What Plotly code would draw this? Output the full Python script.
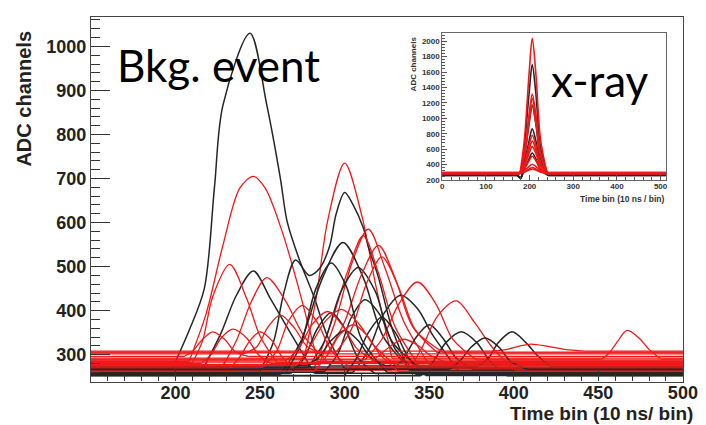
import plotly.graph_objects as go

# ---------------- main panel: background event pulses ----------------
black_t = [
    [198, 208, 217, 223, 228, 244, 254, 262, 266, 273, 282, 290, 300],
    [215, 227, 236, 246, 256, 266, 282],
    [250, 258, 264, 271, 279, 285, 291, 295, 300, 305, 311, 314, 320, 328, 338],
    [262, 274, 287, 299, 311, 323, 342],
    [278, 288, 298, 308, 318, 328, 345],
    [305, 314, 323, 333, 343, 352, 368],
    [328, 335, 342, 350, 358, 366, 376],
    [345, 352, 360, 369, 378, 386, 396],
    [378, 385, 391, 399, 407, 414, 422],
    [268, 276, 284, 292, 300, 308, 318],
    [288, 296, 304, 312, 321, 330, 342],
    [278, 285, 292, 300, 308, 315, 324],
    [300, 307, 314, 322, 330, 338, 348],
    [362, 368, 375, 383, 391, 398, 408],
    [265, 274, 283, 292, 301, 310, 325],
]
black_adc = [
    [268, 355, 450, 680, 866, 1030, 866, 700, 602, 518, 430, 340, 268],
    [258, 350, 435, 490, 428, 362, 258],
    [264, 330, 440, 515, 480, 495, 545, 620, 668, 640, 588, 545, 475, 360, 264],
    [255, 330, 475, 555, 475, 340, 255],
    [270, 330, 445, 498, 445, 330, 270],
    [260, 310, 392, 435, 405, 345, 260],
    [266, 292, 338, 368, 338, 292, 266],
    [252, 282, 328, 352, 328, 285, 252],
    [272, 292, 328, 352, 328, 298, 272],
    [257, 292, 360, 395, 360, 292, 257],
    [262, 302, 385, 425, 390, 312, 262],
    [275, 295, 332, 355, 332, 295, 275],
    [253, 292, 350, 385, 350, 292, 253],
    [267, 285, 318, 338, 318, 285, 267],
    [260, 322, 450, 508, 455, 335, 260],
]
red_t = [
    [208, 218, 228, 238, 246, 253, 263, 272, 284],
    [276, 283, 290, 300, 310, 318, 328],
    [285, 295, 304, 314, 324, 335, 350],
    [282, 292, 302, 311, 320, 330, 345],
    [290, 300, 310, 320, 330, 340, 355],
    [210, 216, 222, 232, 242, 250, 260],
    [228, 236, 245, 254, 265, 276, 292],
    [312, 322, 332, 343, 354, 364, 378],
    [338, 346, 355, 366, 377, 387, 400],
    [388, 396, 403, 410, 420, 430, 442],
    [452, 456, 461, 467, 474, 480, 487],
    [215, 221, 227, 234, 242, 249, 256],
    [232, 238, 244, 250, 257, 263, 270],
    [240, 248, 255, 262, 270, 278, 288],
    [252, 260, 267, 275, 284, 292, 303],
    [265, 273, 281, 290, 299, 307, 318],
    [282, 290, 297, 305, 313, 321, 332],
    [295, 304, 313, 322, 332, 342, 358],
    [272, 280, 289, 298, 308, 317, 330],
    [315, 321, 328, 335, 343, 350, 360],
    [205, 210, 216, 222, 229, 235, 243],
]
red_adc = [
    [285, 392, 548, 678, 705, 678, 580, 462, 285],
    [292, 425, 605, 735, 618, 465, 292],
    [278, 382, 505, 585, 495, 375, 278],
    [270, 372, 492, 570, 485, 362, 270],
    [304, 375, 482, 548, 472, 365, 304],
    [282, 332, 432, 505, 428, 342, 282],
    [275, 332, 422, 475, 422, 342, 275],
    [288, 335, 415, 465, 415, 335, 288],
    [265, 318, 388, 422, 372, 318, 265],
    [308, 312, 319, 324, 319, 312, 308],
    [290, 302, 328, 355, 338, 312, 290],
    [280, 300, 338, 358, 338, 300, 280],
    [268, 295, 332, 352, 332, 295, 268],
    [302, 318, 365, 390, 362, 318, 302],
    [272, 310, 378, 412, 372, 310, 272],
    [286, 315, 370, 398, 365, 315, 286],
    [262, 300, 345, 368, 345, 300, 262],
    [306, 358, 462, 522, 452, 355, 306],
    [276, 322, 378, 403, 372, 322, 276],
    [283, 300, 322, 335, 322, 300, 283],
    [296, 308, 335, 352, 335, 308, 296],
]
main_ticks_x = [200, 250, 300, 350, 400, 450, 500]
main_ticks_y = [300, 400, 500, 600, 700, 800, 900, 1000]

# ---------------- inset: x-ray pulses ----------------
inset_red_t = [178, 188, 199, 206, 214, 225, 240]
inset_black_t = [172, 180, 188, 199, 206, 214, 225, 242]
inset_red_adc = [
    [285, 723, 1599, 2037, 1599, 723, 285],
    [290, 546, 1057, 1313, 1057, 546, 290],
    [280, 525, 1014, 1258, 1014, 525, 280],
    [295, 515, 955, 1175, 955, 515, 295],
    [288, 411, 657, 780, 657, 411, 288],
    [283, 388, 599, 704, 599, 388, 283],
    [292, 377, 548, 633, 548, 377, 292],
    [286, 342, 453, 508, 453, 342, 286],
    [290, 319, 376, 404, 376, 319, 290],
    [282, 302, 342, 362, 342, 302, 282],
    [295, 307, 330, 342, 330, 307, 295],
]
inset_black_adc = [
    [262, 218, 620, 1338, 1696, 1338, 620, 262],
    [258, 225, 484, 937, 1163, 937, 484, 258],
    [265, 230, 415, 714, 863, 714, 415, 265],
    [260, 235, 333, 478, 550, 478, 333, 260],
]
inset_ticks_x = [0, 100, 200, 300, 400, 500]
inset_ticks_y = [200, 400, 600, 800, 1000, 1200, 1400, 1600, 1800, 2000]

BLACK = "#262626"
RED = "#f01818"
W, H = 706, 425

fig = go.Figure()


def add_pulse(t, v, color, xa, ya, x0, x1, width):
    # flat baseline on both sides of the pulse (straight lines)
    fig.add_trace(go.Scatter(
        x=[x0, t[0], None, t[-1], x1], y=[v[0], v[0], None, v[-1], v[-1]],
        mode="lines", line=dict(color=color, width=width),
        xaxis=xa, yaxis=ya, showlegend=False, hoverinfo="skip"))
    # the pulse itself (smooth)
    fig.add_trace(go.Scatter(
        x=t, y=v, mode="lines",
        line=dict(color=color, width=width, shape="spline", smoothing=0.9),
        xaxis=xa, yaxis=ya, showlegend=False, hoverinfo="skip"))


n = max(len(black_t), len(red_t))
for i in range(n):
    if i < len(black_t):
        add_pulse(black_t[i], black_adc[i], BLACK, "x", "y", 150, 500.3, 1.5)
    if i < len(red_t):
        add_pulse(red_t[i], red_adc[i], RED, "x", "y", 150, 500.3, 1.3)

m = max(len(inset_black_adc), len(inset_red_adc))
for i in range(m):
    if i < len(inset_black_adc):
        add_pulse(inset_black_t, inset_black_adc[i], BLACK, "x2", "y2", 0, 512, 1.6)
    if i < len(inset_red_adc):
        add_pulse(inset_red_t, inset_red_adc[i], RED, "x2", "y2", 0, 512, 1.6)

TF = "Liberation Sans, Arial, sans-serif"
main_tick = dict(family=TF, size=18, color="#222", weight="bold")
inset_tick = dict(family=TF, size=8, color="#333", weight="bold")

fig.update_layout(
    width=W, height=H, autosize=False,
    margin=dict(l=0, r=0, t=0, b=0),
    paper_bgcolor="white", plot_bgcolor="white",
    xaxis=dict(domain=[83 / W, 690 / W], range=[150, 500.3], anchor="y",
               tickmode="array", tickvals=main_ticks_x, ticks="inside", ticklen=12,
               tickwidth=1, tickcolor="#333", ticklabelstandoff=-5,
               minor=dict(tickmode="linear", tick0=150, dtick=10, ticks="inside", ticklen=7,
                          tickwidth=1, tickcolor="#333"),
               showline=True, mirror=True, linecolor="#444", linewidth=1.2,
               showgrid=False, zeroline=False, tickfont=main_tick),
    yaxis=dict(domain=[(H - 378) / H, (H - 9) / H], range=[239, 1067], anchor="x",
               tickmode="array", tickvals=main_ticks_y, ticks="inside", ticklen=19,
               tickwidth=1, tickcolor="#333",
               minor=dict(tickmode="linear", tick0=0, dtick=20, ticks="inside", ticklen=9,
                          tickwidth=1, tickcolor="#333"),
               showline=True, mirror=True, linecolor="#444", linewidth=1.2,
               showgrid=False, zeroline=False, tickfont=main_tick),
    xaxis2=dict(domain=[443 / W, 672 / W], range=[0, 512], anchor="y2",
                tickmode="array", tickvals=inset_ticks_x, ticks="inside", ticklen=5,
                tickwidth=1, tickcolor="#555", ticklabelstandoff=-2,
                minor=dict(tickmode="linear", tick0=0, dtick=20, ticks="inside", ticklen=3,
                           tickwidth=1, tickcolor="#555"),
                showline=True, mirror=True, linecolor="#666", linewidth=1,
                showgrid=False, zeroline=False, tickfont=inset_tick),
    yaxis2=dict(domain=[(H - 174) / H, (H - 25) / H], range=[200, 2110], anchor="x2",
                tickmode="array", tickvals=inset_ticks_y, ticks="inside", ticklen=5,
                tickwidth=1, tickcolor="#555",
                minor=dict(tickmode="linear", tick0=0, dtick=40, ticks="inside", ticklen=3,
                           tickwidth=1, tickcolor="#555"),
                showline=True, mirror=True, linecolor="#666", linewidth=1,
                showgrid=False, zeroline=False, tickfont=inset_tick),
)

ann = [
    dict(text="<b>ADC channels</b>", x=14 / W, y=(H - 92) / H, textangle=-90,
         font=dict(family=TF, size=20, color="#222")),
    dict(text="<b>Time bin (10 ns/ bin)</b>", x=702 / W, y=(H - 410) / H, xanchor="right",
         font=dict(family=TF, size=19, color="#222")),
    dict(text="<b>ADC channels</b>", x=413 / W, y=(H - 57) / H, textangle=-90,
         font=dict(family=TF, size=8, color="#333")),
    dict(text="<b>Time bin (10 ns / bin)</b>", x=673 / W, y=(H - 193) / H, xanchor="right",
         font=dict(family=TF, size=8.5, color="#333")),
    dict(text="Bkg. event", x=108 / W, y=(H - 58) / H, xanchor="left",
         font=dict(family="Lato, Open Sans, sans-serif", size=44, color="black")),
    dict(text="x-ray", x=552 / W, y=(H - 73) / H, xanchor="left",
         font=dict(family="Lato, Open Sans, sans-serif", size=44, color="black")),
]
for a in ann:
    a.setdefault("yanchor", "middle")
    a.setdefault("xanchor", "center")
    fig.add_annotation(xref="paper", yref="paper", showarrow=False, **a)

fig.write_html("out.html")
